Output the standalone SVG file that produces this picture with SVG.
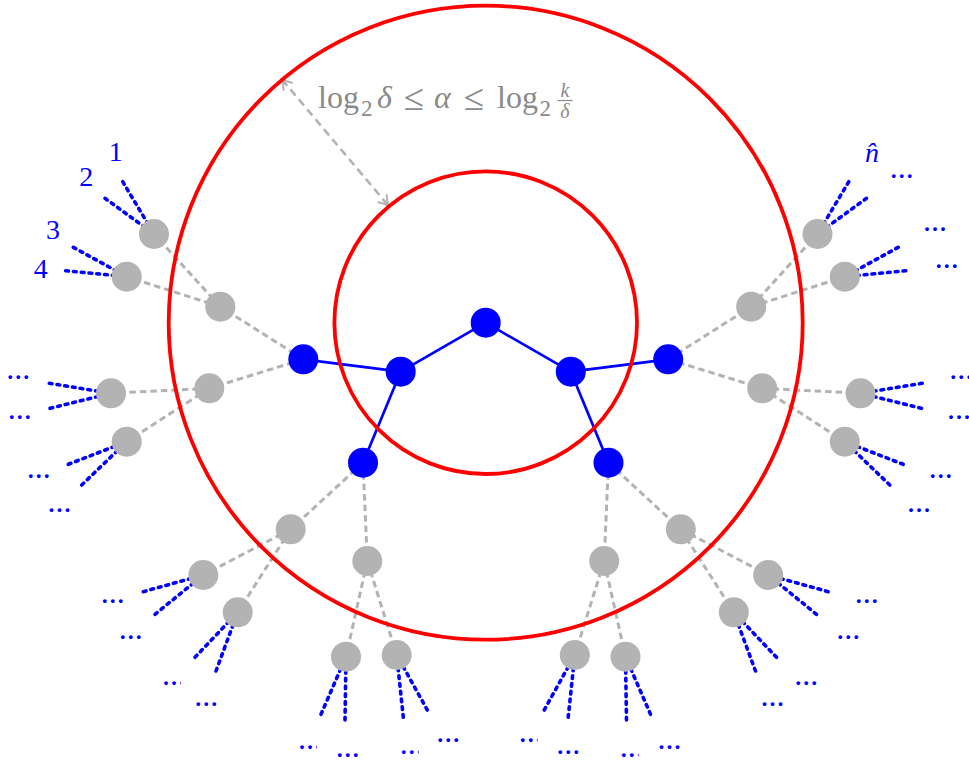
<svg xmlns="http://www.w3.org/2000/svg" width="969" height="762" viewBox="0 0 969 762">
<style>
.red{fill:none;stroke:#ff0000;stroke-width:3.8}
.be{stroke:#0000ff;stroke-width:2.7;fill:none}
.ge{stroke:#b3b3b3;stroke-width:3;stroke-dasharray:6.5 4;fill:none}
.le{stroke:#0000ff;stroke-width:3.6;stroke-dasharray:2.8 5;stroke-linecap:round;fill:none}
.bn{fill:#0000ff}
.gn{fill:#b3b3b3}
.lbl{font-family:"Liberation Serif",serif;fill:#0000ff;text-anchor:middle}
.dots{font-size:32px}
.num{font-size:28px}
.f{font-family:"Liberation Serif",serif;fill:#8a8a8a}
.big{font-size:32px}
.sub{font-size:23px}
.rel{font-size:37px}
.it{font-style:italic}
.arr{stroke:#b3b3b3;stroke-width:2.6;stroke-dasharray:8 5;fill:none}
</style>
<defs>
<marker id="tip" markerUnits="userSpaceOnUse" markerWidth="16" markerHeight="16" viewBox="0 0 16 16" refX="14" refY="8" orient="auto-start-reverse">
<path d="M5,2.5 Q10,6.5 14.5,8 Q10,9.5 5,13.5" fill="none" stroke="#b3b3b3" stroke-width="2" stroke-linecap="round"/>
</marker>
<clipPath id="c1" clipPathUnits="userSpaceOnUse"><rect x="297" y="735" width="20" height="20"/></clipPath>
<clipPath id="c2" clipPathUnits="userSpaceOnUse"><rect x="398.7" y="740" width="20" height="20"/></clipPath>
<clipPath id="c3" clipPathUnits="userSpaceOnUse"><rect x="517.7" y="728" width="20" height="20"/></clipPath>
<clipPath id="c4" clipPathUnits="userSpaceOnUse"><rect x="618.7" y="743" width="20" height="20"/></clipPath>
<clipPath id="c5" clipPathUnits="userSpaceOnUse"><rect x="161" y="671" width="20" height="20"/></clipPath>
</defs>
<rect width="969" height="762" fill="#ffffff"/>

<g id="connectors">
<line class="be" x1="485.7" y1="322.7" x2="400.7" y2="371.7"/>
<line class="be" x1="485.7" y1="322.7" x2="570.8" y2="371.7"/>
<line class="be" x1="400.7" y1="371.7" x2="303.3" y2="359.3"/>
<line class="be" x1="400.7" y1="371.7" x2="363" y2="462.7"/>
<line class="be" x1="570.8" y1="371.7" x2="668.2" y2="359.3"/>
<line class="be" x1="570.8" y1="371.7" x2="608.5" y2="462.7"/>

<line class="ge" x1="303.3" y1="359.3" x2="220.3" y2="306.7"/>
<line class="ge" x1="303.3" y1="359.3" x2="209.3" y2="388.3"/>
<line class="ge" x1="220.3" y1="306.7" x2="154" y2="234"/>
<line class="ge" x1="220.3" y1="306.7" x2="126.7" y2="276.7"/>
<line class="ge" x1="209.3" y1="388.3" x2="111" y2="393.3"/>
<line class="ge" x1="209.3" y1="388.3" x2="126.7" y2="441.7"/>
<line class="ge" x1="363" y1="462.7" x2="290.7" y2="529.3"/>
<line class="ge" x1="363" y1="462.7" x2="367.3" y2="561"/>
<line class="ge" x1="290.7" y1="529.3" x2="203.3" y2="575"/>
<line class="ge" x1="290.7" y1="529.3" x2="237.7" y2="612.3"/>
<line class="ge" x1="367.3" y1="561" x2="346" y2="656.7"/>
<line class="ge" x1="367.3" y1="561" x2="396.7" y2="655"/>

<line class="ge" x1="668.2" y1="359.3" x2="751.2" y2="306.7"/>
<line class="ge" x1="668.2" y1="359.3" x2="762.2" y2="388.3"/>
<line class="ge" x1="751.2" y1="306.7" x2="817.5" y2="234"/>
<line class="ge" x1="751.2" y1="306.7" x2="844.8" y2="276.7"/>
<line class="ge" x1="762.2" y1="388.3" x2="860.5" y2="393.3"/>
<line class="ge" x1="762.2" y1="388.3" x2="844.8" y2="441.7"/>
<line class="ge" x1="608.5" y1="462.7" x2="680.8" y2="529.3"/>
<line class="ge" x1="608.5" y1="462.7" x2="604.2" y2="561"/>
<line class="ge" x1="680.8" y1="529.3" x2="768.2" y2="575"/>
<line class="ge" x1="680.8" y1="529.3" x2="733.8" y2="612.3"/>
<line class="ge" x1="604.2" y1="561" x2="625.5" y2="656.7"/>
<line class="ge" x1="604.2" y1="561" x2="574.8" y2="655"/>

<line class="le" x1="122.7" y1="181.7" x2="154" y2="234"/>
<line class="le" x1="105" y1="198.3" x2="154" y2="234"/>
<line class="le" x1="73.3" y1="247.3" x2="126.7" y2="276.7"/>
<line class="le" x1="65.7" y1="270.7" x2="126.7" y2="276.7"/>
<line class="le" x1="49.3" y1="383.3" x2="111" y2="393.3"/>
<line class="le" x1="50" y1="408.3" x2="111" y2="393.3"/>
<line class="le" x1="68.3" y1="464.3" x2="126.7" y2="441.7"/>
<line class="le" x1="81.7" y1="485" x2="126.7" y2="441.7"/>
<line class="le" x1="143.3" y1="591.7" x2="203.3" y2="575"/>
<line class="le" x1="155" y1="614.3" x2="203.3" y2="575"/>
<line class="le" x1="195" y1="657.3" x2="237.7" y2="612.3"/>
<line class="le" x1="216" y1="671" x2="237.7" y2="612.3"/>
<line class="le" x1="321" y1="714.3" x2="346" y2="656.7"/>
<line class="le" x1="345" y1="720" x2="346" y2="656.7"/>
<line class="le" x1="403.3" y1="717.3" x2="396.7" y2="655"/>
<line class="le" x1="427.3" y1="710" x2="396.7" y2="655"/>

<line class="le" x1="848.8" y1="181.7" x2="817.5" y2="234"/>
<line class="le" x1="866.5" y1="198.3" x2="817.5" y2="234"/>
<line class="le" x1="898.2" y1="247.3" x2="844.8" y2="276.7"/>
<line class="le" x1="905.8" y1="270.7" x2="844.8" y2="276.7"/>
<line class="le" x1="922.2" y1="383.3" x2="860.5" y2="393.3"/>
<line class="le" x1="921.5" y1="408.3" x2="860.5" y2="393.3"/>
<line class="le" x1="903.2" y1="464.3" x2="844.8" y2="441.7"/>
<line class="le" x1="889.8" y1="485" x2="844.8" y2="441.7"/>
<line class="le" x1="828.2" y1="591.7" x2="768.2" y2="575"/>
<line class="le" x1="816.5" y1="614.3" x2="768.2" y2="575"/>
<line class="le" x1="776.5" y1="657.3" x2="733.8" y2="612.3"/>
<line class="le" x1="755.5" y1="671" x2="733.8" y2="612.3"/>
<line class="le" x1="650.5" y1="714.3" x2="625.5" y2="656.7"/>
<line class="le" x1="626.5" y1="720" x2="625.5" y2="656.7"/>
<line class="le" x1="568.2" y1="717.3" x2="574.8" y2="655"/>
<line class="le" x1="544.2" y1="710" x2="574.8" y2="655"/>

<line class="arr" x1="282" y1="79.5" x2="388.3" y2="205.5" marker-start="url(#tip)" marker-end="url(#tip)"/>
</g>

<g id="circles">
<circle class="red" cx="485.7" cy="322.7" r="317"/>
<circle class="red" cx="485.7" cy="322.7" r="151.3"/>
</g>

<g id="formula">
<text class="f big" x="318" y="108.3">log</text>
<text class="f sub" x="361" y="115.5">2</text>
<text class="f big it" x="377" y="108.3">δ</text>
<text class="f rel" x="403.5" y="110">≤</text>
<text class="f big it" x="434" y="108.3">α</text>
<text class="f rel" x="463.5" y="110">≤</text>
<text class="f big" x="497" y="108.3">log</text>
<text class="f sub" x="539.5" y="115.5">2</text>
<text class="f it" x="565" y="97" font-size="20" text-anchor="middle">k</text>
<line x1="557.5" y1="100.5" x2="572.5" y2="100.5" stroke="#8a8a8a" stroke-width="1.2"/>
<text class="f it" x="565" y="117.5" font-size="20" text-anchor="middle">δ</text>
</g>

<g id="nodes">
<g id="b0"><circle class="bn" cx="485.7" cy="322.7" r="15"/></g>
<g id="bl1"><circle class="bn" cx="400.7" cy="371.7" r="15"/></g>
<g id="br1"><circle class="bn" cx="570.8" cy="371.7" r="15"/></g>
<g id="bl2"><circle class="bn" cx="303.3" cy="359.3" r="15"/></g>
<g id="br2"><circle class="bn" cx="668.2" cy="359.3" r="15"/></g>
<g id="bl3"><circle class="bn" cx="363" cy="462.7" r="15"/></g>
<g id="br3"><circle class="bn" cx="608.5" cy="462.7" r="15"/></g>

<g id="g1"><circle class="gn" cx="220.3" cy="306.7" r="15"/></g>
<g id="g2"><circle class="gn" cx="154" cy="234" r="15"/></g>
<g id="g3"><circle class="gn" cx="126.7" cy="276.7" r="15"/></g>
<g id="g4"><circle class="gn" cx="209.3" cy="388.3" r="15"/></g>
<g id="g5"><circle class="gn" cx="111" cy="393.3" r="15"/></g>
<g id="g6"><circle class="gn" cx="126.7" cy="441.7" r="15"/></g>
<g id="g7"><circle class="gn" cx="290.7" cy="529.3" r="15"/></g>
<g id="g8"><circle class="gn" cx="203.3" cy="575" r="15"/></g>
<g id="g9"><circle class="gn" cx="237.7" cy="612.3" r="15"/></g>
<g id="g10"><circle class="gn" cx="367.3" cy="561" r="15"/></g>
<g id="g11"><circle class="gn" cx="346" cy="656.7" r="15"/></g>
<g id="g12"><circle class="gn" cx="396.7" cy="655" r="15"/></g>

<g id="h1"><circle class="gn" cx="751.2" cy="306.7" r="15"/></g>
<g id="h2"><circle class="gn" cx="817.5" cy="234" r="15"/></g>
<g id="h3"><circle class="gn" cx="844.8" cy="276.7" r="15"/></g>
<g id="h4"><circle class="gn" cx="762.2" cy="388.3" r="15"/></g>
<g id="h5"><circle class="gn" cx="860.5" cy="393.3" r="15"/></g>
<g id="h6"><circle class="gn" cx="844.8" cy="441.7" r="15"/></g>
<g id="h7"><circle class="gn" cx="680.8" cy="529.3" r="15"/></g>
<g id="h8"><circle class="gn" cx="768.2" cy="575" r="15"/></g>
<g id="h9"><circle class="gn" cx="733.8" cy="612.3" r="15"/></g>
<g id="h10"><circle class="gn" cx="604.2" cy="561" r="15"/></g>
<g id="h11"><circle class="gn" cx="625.5" cy="656.7" r="15"/></g>
<g id="h12"><circle class="gn" cx="574.8" cy="655" r="15"/></g>
</g>

<g id="labels">
<text class="lbl num" x="115.7" y="160.5">1</text>
<text class="lbl num" x="86.3" y="186">2</text>
<text class="lbl num" x="53" y="239.3">3</text>
<text class="lbl num" x="40.8" y="277.7">4</text>
<text class="lbl num it" x="872" y="161.5">n̂</text>

<text class="lbl dots" x="18.3" y="379.3">...</text>
<text class="lbl dots" x="19.7" y="419.3">...</text>
<text class="lbl dots" x="38.8" y="478.3">...</text>
<text class="lbl dots" x="59.5" y="512.3">...</text>
<text class="lbl dots" x="112.8" y="603.3">...</text>
<text class="lbl dots" x="130.8" y="638.7">...</text>
<text class="lbl dots" x="174" y="685.3" clip-path="url(#c5)">...</text>
<text class="lbl dots" x="206.2" y="706.3">...</text>
<text class="lbl dots" x="310" y="749.3" clip-path="url(#c1)">...</text>
<text class="lbl dots" x="347.8" y="757.3">...</text>
<text class="lbl dots" x="411.7" y="754.3" clip-path="url(#c2)">...</text>
<text class="lbl dots" x="448.2" y="742.3">...</text>

<text class="lbl dots" x="530.7" y="742.3" clip-path="url(#c3)">...</text>
<text class="lbl dots" x="568.3" y="754.3">...</text>
<text class="lbl dots" x="631.7" y="757.3" clip-path="url(#c4)">...</text>
<text class="lbl dots" x="669.5" y="749.3">...</text>
<text class="lbl dots" x="772.5" y="706.3">...</text>
<text class="lbl dots" x="806.3" y="685.3">...</text>
<text class="lbl dots" x="848.3" y="638.7">...</text>
<text class="lbl dots" x="866.7" y="603.3">...</text>
<text class="lbl dots" x="919" y="512.3">...</text>
<text class="lbl dots" x="940.8" y="478.3">...</text>
<text class="lbl dots" x="959" y="419.3">...</text>
<text class="lbl dots" x="961.3" y="379.3">...</text>
<text class="lbl dots" x="946.7" y="268">...</text>
<text class="lbl dots" x="935" y="231.3">...</text>
<text class="lbl dots" x="901.7" y="178">...</text>
</g>
</svg>
